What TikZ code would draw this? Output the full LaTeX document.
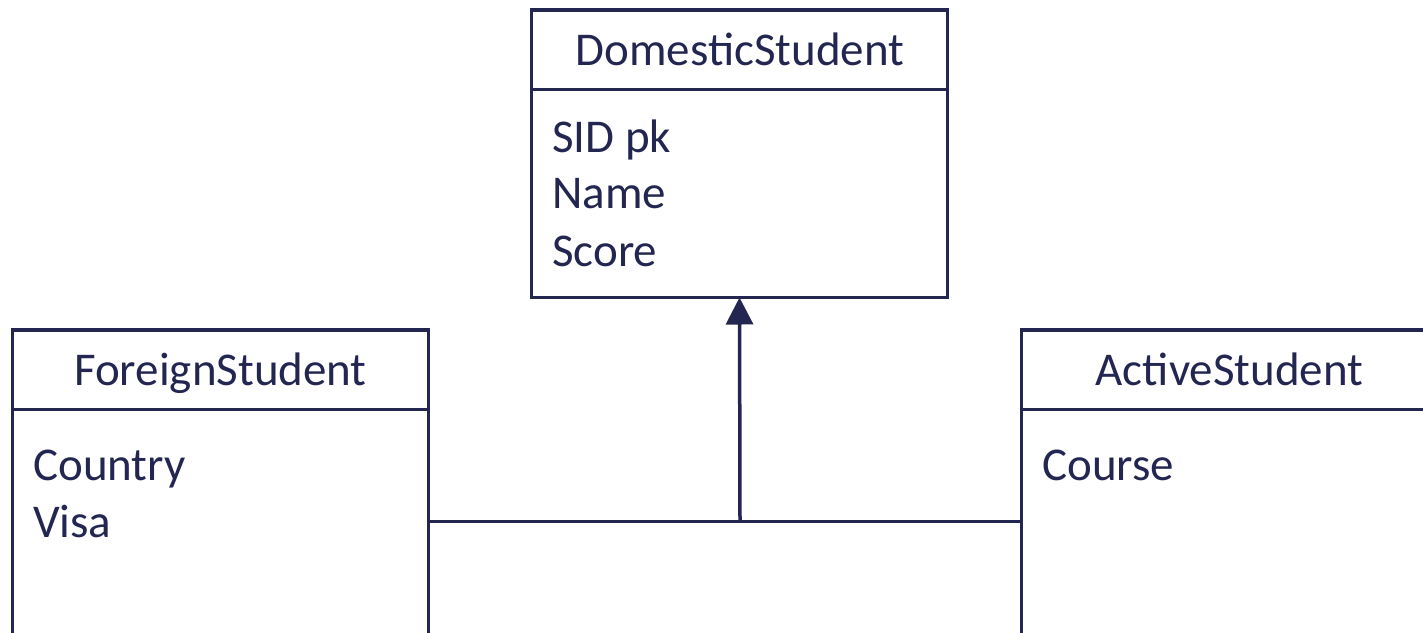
\documentclass[tikz,border=0pt]{standalone}
\usepackage{fontspec}
\setmainfont{Carlito}
\usetikzlibrary{arrows.meta}
\definecolor{ink}{RGB}{35,38,80}
\begin{document}
\begin{tikzpicture}[x=1pt,y=-1pt,
  cls/.style={draw=ink, line width=3.5pt, rectangle, inner sep=0pt, outer sep=0pt, anchor=north west},
  title/.style={text=ink, font=\fontsize{47}{56}\selectfont, anchor=base, inner sep=0pt},
  attr/.style={text=ink, font=\fontsize{47}{56}\selectfont, anchor=base west, inner sep=0pt},
  link/.style={draw=ink, line width=3.5pt},
  gen/.style={link, -{Triangle[width=27pt,length=27pt]}}]
\useasboundingbox (0,0) rectangle (1423,632);
\clip (0,0) rectangle (1423,632);

% class boxes
\node[cls, minimum width=416pt, minimum height=287.5pt] (dom) at (531.5,10) {};
\node[cls, minimum width=416pt, minimum height=380pt] (foreign) at (12.5,330) {};
\node[cls, minimum width=416pt, minimum height=380pt] (active) at (1021.5,330) {};

% compartment separators
\draw[link] (dom.west |- 0,89.5) -- (dom.east |- 0,89.5);
\draw[link] (foreign.west |- 0,409.5) -- (foreign.east |- 0,409.5);
\draw[link] (active.west |- 0,409.5) -- (active.east |- 0,409.5);

% class names
\node[title] (domname) at (740,65) {DomesticStudent};
\node[title] (forname) at (220.5,385) {ForeignStudent};
\node[title] (actname) at (1229.5,385) {ActiveStudent};

% attributes
\node[attr] (sid) at (552,152) {SID pk};
\node[attr] (name) at (552,208) {Name};
\node[attr] (score) at (552,266) {Score};
\node[attr] (country) at (33,480) {Country};
\node[attr] (visa) at (33,537) {Visa};
\node[attr] (course) at (1042,480) {Course};

% generalisation
\coordinate (join) at (740,521.5);
\draw[link] (foreign.east |- join) -- (active.west |- join);
\draw[gen] (join) -- (dom.south);
\end{tikzpicture}
\end{document}
